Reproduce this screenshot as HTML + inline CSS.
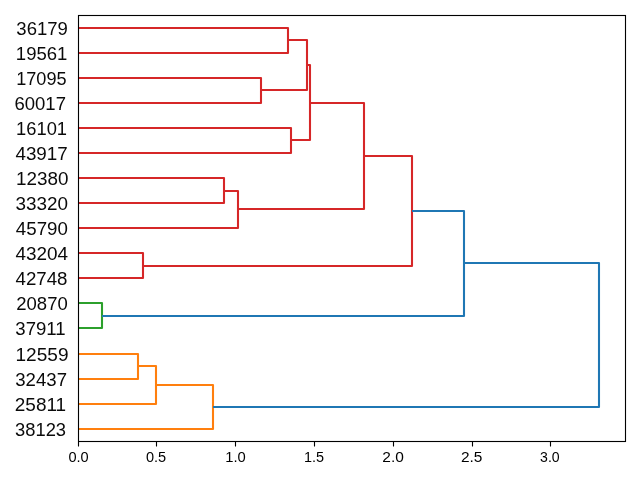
<!DOCTYPE html>
<html><head><meta charset="utf-8"><title>Dendrogram</title>
<style>
html,body{margin:0;padding:0;background:#fff;width:640px;height:480px;overflow:hidden}
svg{display:block}
text{font-family:"Liberation Sans",sans-serif}
</style></head>
<body>
<svg width="640" height="480" viewBox="0 0 640 480">
<rect x="0" y="0" width="640" height="480" fill="#fff"/>
<g fill="none" stroke-width="2.0833" stroke-linejoin="round" stroke-linecap="butt">
<path d="M78 379 L138 379 L138 354 L78 354 M78 404 L156 404 L156 366 L138 366 M78 429 L213 429 L213 385 L156 385" stroke="#ff7f0e"/>
<path d="M78 328 L102 328 L102 303 L78 303" stroke="#2ca02c"/>
<path d="M78 278 L143 278 L143 253 L78 253 M78 203 L224 203 L224 178 L78 178 M78 228 L238 228 L238 191 L224 191 M78 153 L291 153 L291 128 L78 128 M78 103 L261 103 L261 78 L78 78 M78 53 L288 53 L288 28 L78 28 M261 90 L307 90 L307 40 L288 40 M291 140 L310 140 L310 65 L307 65 M238 209 L364 209 L364 103 L310 103 M143 266 L412 266 L412 156 L364 156" stroke="#d62728"/>
<path d="M102 316 L464 316 L464 211 L412 211 M213 407 L599 407 L599 263 L464 263" stroke="#1f77b4"/>
</g>
<rect x="78.5" y="15.5" width="547" height="426" fill="none" stroke="#000" stroke-width="1.1111"/>
<path d="M78.5 441.5 V446.4 M156.5 441.5 V446.4 M235.5 441.5 V446.4 M314.5 441.5 V446.4 M393.5 441.5 V446.4 M472.5 441.5 V446.4 M550.5 441.5 V446.4" stroke="#000" stroke-width="1.1111" fill="none"/>
<g font-size="18.5px" text-anchor="end" style="filter:grayscale(1)" fill="#0a0a0a">
<text x="67.0" y="35" transform="matrix(1.0027 0 0 1.0000 0.740 0.000)">36179</text>
<text x="67.0" y="60" transform="matrix(1.0026 0 0 1.0000 0.251 0.000)">19561</text>
<text x="67.0" y="85" transform="matrix(0.9805 0 0 1.0000 0.887 0.000)">17095</text>
<text x="67.0" y="110" transform="matrix(1.0019 0 0 1.0000 -1.148 0.000)">60017</text>
<text x="67.0" y="135" transform="matrix(0.9920 0 0 1.0000 0.605 0.000)">16101</text>
<text x="67.0" y="160" transform="matrix(1.0186 0 0 1.0000 -0.465 0.000)">43917</text>
<text x="67.0" y="185" transform="matrix(1.0195 0 0 1.0000 0.124 0.000)">12380</text>
<text x="67.0" y="210" transform="matrix(1.0213 0 0 1.0000 -0.524 0.000)">33320</text>
<text x="67.0" y="235" transform="matrix(1.0120 0 0 1.0000 0.127 0.000)">45790</text>
<text x="67.0" y="260" transform="matrix(1.0231 0 0 1.0000 -0.384 0.000)">43204</text>
<text x="67.0" y="285" transform="matrix(1.0115 0 0 1.0000 -0.253 0.000)">42748</text>
<text x="67.0" y="310" transform="matrix(1.0009 0 0 1.0000 0.694 0.000)">20870</text>
<text x="67.0" y="335" transform="matrix(1.0060 0 0 1.0000 -1.736 0.000)">37911</text>
<text x="67.0" y="361" transform="matrix(1.0307 0 0 1.0000 -0.560 0.000)">12559</text>
<text x="67.0" y="386" transform="matrix(1.0056 0 0 1.0000 -0.402 0.000)">32437</text>
<text x="67.0" y="411" transform="matrix(1.0260 0 0 1.0000 -2.571 0.000)">25811</text>
<text x="67.0" y="436" transform="matrix(0.9930 0 0 1.0000 -0.467 0.000)">38123</text>
</g>
<g font-size="14.5px" text-anchor="middle" style="filter:grayscale(1)" fill="#000">
<text x="78.5" y="462" transform="matrix(1.0043 0 0 1.0000 -0.302 0.000)">0.0</text>
<text x="156.5" y="462" transform="matrix(1.0032 0 0 1.0000 -0.977 0.000)">0.5</text>
<text x="235.5" y="462" transform="matrix(1.0182 0 0 1.0000 -4.338 0.000)">1.0</text>
<text x="314.5" y="462" transform="matrix(0.9956 0 0 1.0000 0.983 0.000)">1.5</text>
<text x="393.5" y="462" transform="matrix(1.0679 0 0 1.0000 -27.123 0.000)">2.0</text>
<text x="472.5" y="462" transform="matrix(1.0662 0 0 1.0000 -32.123 0.000)">2.5</text>
<text x="550.5" y="462" transform="matrix(0.9722 0 0 1.0000 14.667 0.000)">3.0</text>
</g>
</svg>
</body></html>
